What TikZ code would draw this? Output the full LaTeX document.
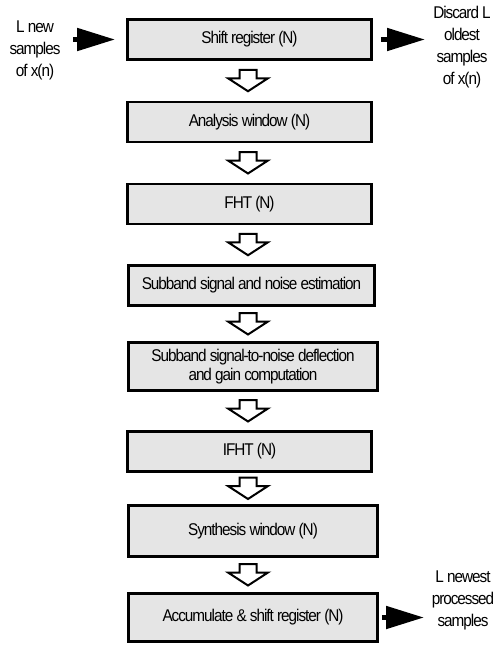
\documentclass[tikz,border=0pt]{standalone}
\usepackage{fontspec}
\setmainfont{Liberation Sans}[FakeStretch=0.9, LetterSpace=-6]
\usetikzlibrary{arrows.meta,calc}
\definecolor{boxgray}{gray}{0.9}
\tikzset{
    box/.style={draw, fill=boxgray, line width=2.8pt, minimum height=40pt,
                minimum width=244pt, inner sep=2pt, align=center,
                font=\fontsize{17}{19}\selectfont},
    note/.style={align=center, font=\fontsize{17}{22}\selectfont},
    feed/.style={-{Triangle[length=38pt,width=22pt]}, line width=5pt},
    hollow/.style={draw, fill=white, line width=2pt, line join=miter},
}
\newcommand{\hollowdown}[2]{
    \draw[hollow, shift={($(axis|-#1.south)!0.5!(axis|-#2.north)$)}]
        (-8.5,-11) -- (8.5,-11) -- (8.5,-2.5) -- (20,-2.5) -- (0,10.5)
        -- (-20,-2.5) -- (-8.5,-2.5) -- cycle;
}

\begin{document}
\begin{tikzpicture}[x=1pt, y=-1pt]
    \useasboundingbox (0,0) rectangle (503,645);
    \coordinate (axis) at (248,0);

    \node[box] (shift) at (249.5,39.5) {Shift register (N)};
    \node[box] (analysis) at (249.5,122) {Analysis window (N)};
    \node[box] (fht) at (249.5,204) {FHT (N)};
    \node[box, minimum width=246pt] (estim) at (251.5,285.5)
        {Subband signal and noise estimation};
    \node[box, minimum width=249pt, minimum height=48pt] (gain) at (253,366.5)
        {Subband signal-to-noise deflection\\and gain computation};
    \node[box] (ifht) at (249.5,451.5) {IFHT (N)};
    \node[box, minimum width=249pt, minimum height=51pt] (synth) at (253,531)
        {Synthesis window (N)};
    \node[box, minimum width=249pt, minimum height=48pt] (accum) at (253,617.5)
        {Accumulate \& shift register (N)};

    \node[note] (newin) at (35,50) {L new\\samples\\of x(n)};
    \node[note] (oldout) at (462,47) {Discard L\\oldest\\samples\\of x(n)};
    \node[note] (newout) at (463,600) {L newest\\processed\\samples};

    \coordinate (inTail) at (73,39.5);
    \coordinate (oldTip) at (425,39.5);
    \coordinate (newTip) at (424,617.5);

    \draw[feed, shorten >=11pt] (inTail) -- (shift.west);
    \draw[feed, shorten <=8pt] (shift.east) -- (oldTip);
    \draw[feed, shorten <=3pt] (accum.east) -- (newTip);

    \hollowdown{shift}{analysis}
    \hollowdown{analysis}{fht}
    \hollowdown{fht}{estim}
    \hollowdown{estim}{gain}
    \hollowdown{gain}{ifht}
    \hollowdown{ifht}{synth}
    \hollowdown{synth}{accum}
\end{tikzpicture}
\end{document}
